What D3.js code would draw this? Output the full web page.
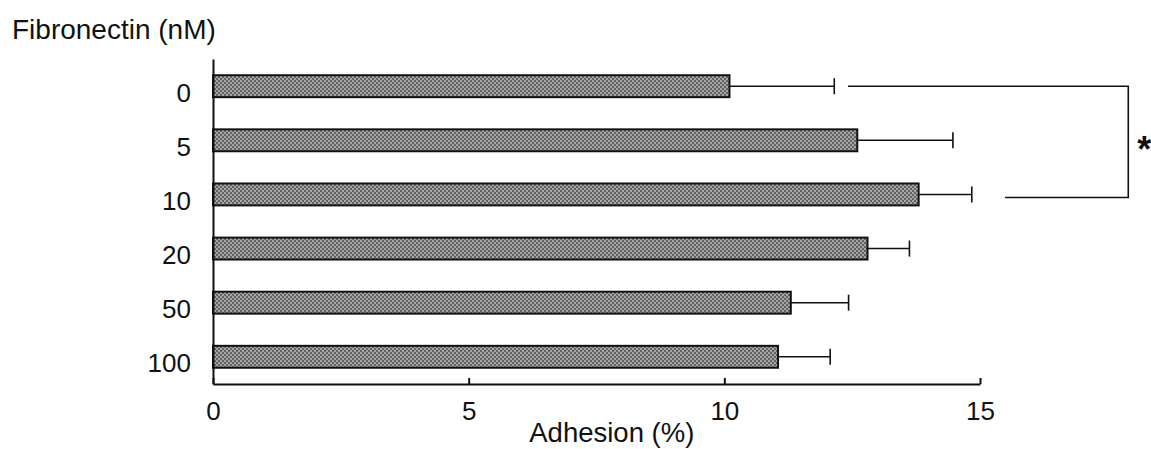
<!DOCTYPE html>
<html>
<head>
<meta charset="utf-8">
<script src="https://cdn.jsdelivr.net/npm/d3@7"></script>
<style>
  body { margin: 0; background: #fff; }
  svg { display: block; font-family: "Liberation Sans", Arial, sans-serif; }
</style>
</head>
<body>
<div class="bar_wrapper"></div>
<script>
// values
const concentrations = ["0", "5", "10", "20", "50", "100"]
const adhesion = [10.1, 12.6, 13.8, 12.8, 11.3, 11.05]
const adhesionErr = [2.05, 1.87, 1.04, 0.82, 1.13, 1.02]
const xTicks = [0, 5, 10, 15]
// significance bracket between 0 nM and 10 nM (x in adhesion units)
const bracketRows = ["0", "10"]
const bracketStarts = [12.42, 15.49]
const bracketX = 17.9

function drawBars () {

  let dimensions = {
    width: 1151,
    height: 449,
    margin: { top: 59, right: 171, bottom: 65, left: 213 },
  }
  dimensions.boundedWidth = dimensions.width - dimensions.margin.left - dimensions.margin.right
  dimensions.boundedHeight = dimensions.height - dimensions.margin.top - dimensions.margin.bottom

  const wrapper = d3.select(".bar_wrapper")
    .append("svg")
      .attr("width", dimensions.width)
      .attr("height", dimensions.height)

  // grey speckled fill like the printed bars
  const defs = wrapper.append("defs")
  const pat = defs.append("pattern")
      .attr("id", "speckle")
      .attr("width", 4)
      .attr("height", 4)
      .attr("patternUnits", "userSpaceOnUse")
  pat.append("rect").attr("width", 4).attr("height", 4).attr("fill", "#a6a6a6")
  pat.append("path")
      .attr("d", "M0,0 L4,4 M4,0 L0,4")
      .attr("stroke", "#5a5a5a").attr("stroke-width", 0.9)

  const bounds = wrapper.append("g")
    .attr("transform", `translate(${dimensions.margin.left}, ${dimensions.margin.top})`)

  const xScale = d3.scaleLinear()
    .domain([0, 15])
    .range([0, dimensions.boundedWidth])

  const yScale = d3.scaleBand()
    .domain(concentrations)
    .range([0, dimensions.boundedHeight])
    .paddingInner(0.595)
    .paddingOuter(0.3)

  const data = concentrations.map((c, i) => ({ c: c, v: adhesion[i], e: adhesionErr[i] }))

  // error bars
  const cy = d => yScale(d.c) + yScale.bandwidth() / 2
  bounds.selectAll(".err")
    .data(data)
    .enter()
    .append("line")
      .attr("x1", d => xScale(d.v))
      .attr("x2", d => xScale(d.v + d.e))
      .attr("y1", cy)
      .attr("y2", cy)
      .attr("stroke", "#111")
      .attr("stroke-width", 1.6)
  bounds.selectAll(".cap")
    .data(data)
    .enter()
    .append("line")
      .attr("x1", d => xScale(d.v + d.e))
      .attr("x2", d => xScale(d.v + d.e))
      .attr("y1", d => cy(d) - 8)
      .attr("y2", d => cy(d) + 8)
      .attr("stroke", "#111")
      .attr("stroke-width", 1.6)

  bounds.selectAll(".bar")
    .data(data)
    .enter()
    .append("rect")
      .attr("x", xScale(0))
      .attr("y", d => yScale(d.c))
      .attr("width", d => xScale(d.v) - xScale(0))
      .attr("height", yScale.bandwidth())
      .attr("fill", "url(#speckle)")
      .attr("stroke", "#111")
      .attr("stroke-width", 2)

  // axes
  const xAxis = d3.axisBottom(xScale)
    .tickValues(xTicks)
    .tickSizeInner(-6)
    .tickSizeOuter(0)
    .tickPadding(18)

  const xg = bounds.append("g")
    .attr("transform", `translate(0, ${dimensions.boundedHeight})`)
    .call(xAxis)
  xg.selectAll("text").attr("font-size", 26).attr("fill", "#111").attr("font-family", "Liberation Sans, Arial, sans-serif")
  xg.selectAll("line, path").attr("stroke", "#111").attr("stroke-width", 2)

  const yAxis = d3.axisLeft(yScale)
    .tickSize(0)
    .tickPadding(22)

  const yg = bounds.append("g").call(yAxis)
  yg.selectAll("text").attr("font-size", 26).attr("dy", "0.6em").attr("fill", "#111").attr("font-family", "Liberation Sans, Arial, sans-serif")
  yg.select(".domain").attr("stroke", "#111").attr("stroke-width", 2)

  // axis titles
  wrapper.append("text")
    .attr("x", 12)
    .attr("y", 39)
    .attr("font-size", 28)
    .attr("fill", "#111")
    .text("Fibronectin (nM)")

  bounds.append("text")
    .attr("x", xScale(7.8))
    .attr("y", dimensions.boundedHeight + 58)
    .attr("text-anchor", "middle")
    .attr("font-size", 27.5)
    .attr("fill", "#111")
    .text("Adhesion (%)")

  // significance bracket
  const yTop = yScale(bracketRows[0]) + yScale.bandwidth() / 2
  const yBot = yScale(bracketRows[1]) + yScale.bandwidth() / 2 + 3
  bounds.append("path")
    .attr("d", `M${xScale(bracketStarts[0])},${yTop} H${xScale(bracketX)} V${yBot} H${xScale(bracketStarts[1])}`)
    .attr("fill", "none")
    .attr("stroke", "#111")
    .attr("stroke-width", 1.6)

  bounds.append("text")
    .attr("x", xScale(bracketX) + 16)
    .attr("y", (yTop + yBot) / 2 + 20)
    .attr("text-anchor", "middle")
    .attr("font-size", 36)
    .attr("font-weight", "bold")
    .attr("fill", "#111")
    .text("*")
}
drawBars()
</script>
</body>
</html>
